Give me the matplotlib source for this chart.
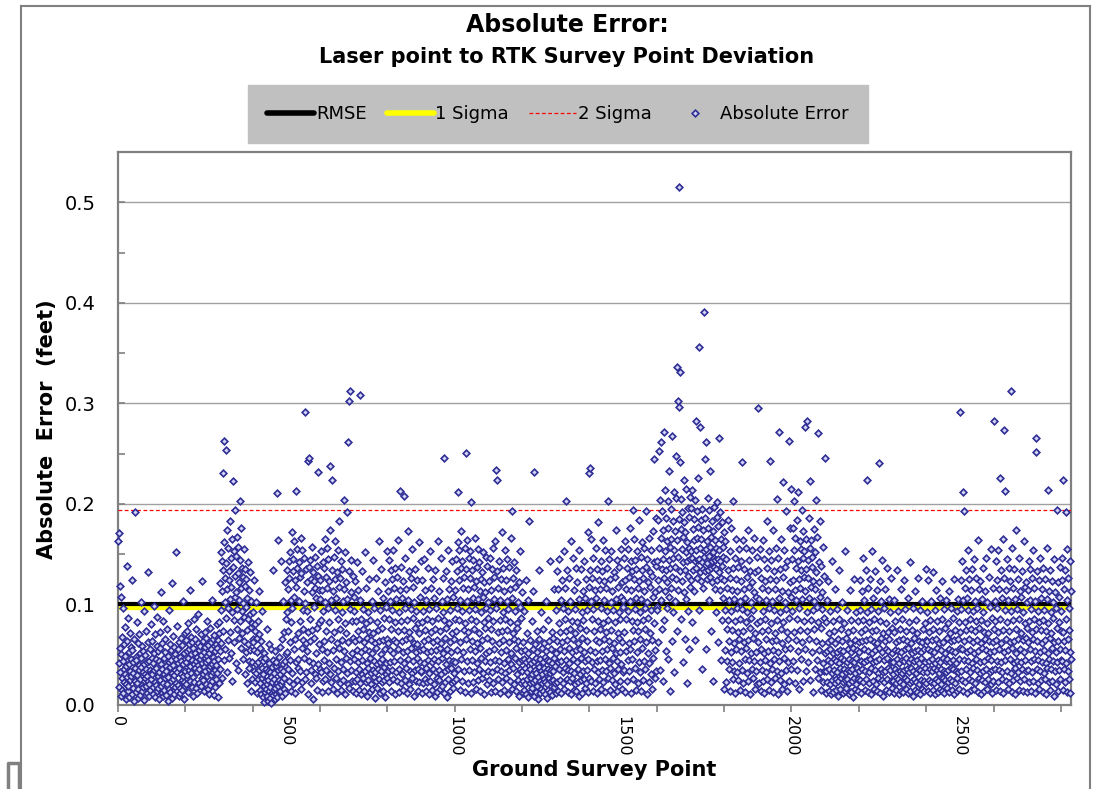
import matplotlib
matplotlib.use("Agg")
import matplotlib.pyplot as plt
from matplotlib.lines import Line2D
import numpy as np

plt.rcParams['font.family'] = ['DejaVu Sans']

# absolute error per survey point, in thousandths of a foot, 100 points per block
b00 = [163, 42, 171, 18, 57, 118, 33, 9, 51, 107, 27, 68, 15, 44, 96, 12, 36, 61, 23, 49,
       78, 31, 6, 39, 21, 138, 64, 28, 14, 87, 19, 53, 41, 8, 34, 72, 25, 58, 46, 29,
       11, 124, 55, 17, 32, 43, 66, 4, 192, 24, 37, 48, 13, 45, 22, 83, 30, 62, 16, 7,
       40, 71, 35, 26, 52, 10, 102, 38, 47, 20, 59, 14, 33, 54, 18, 41, 93, 5, 31, 27,
       50, 36, 74, 19, 12, 43, 29, 63, 24, 132, 9, 44, 21, 35, 56, 15, 81, 32, 26, 47]
b01 = [31, 64, 18, 11, 42, 98, 35, 52, 23, 71, 8, 37, 46, 20, 59, 14, 88, 29, 17, 54,
       44, 6, 33, 73, 25, 57, 112, 19, 41, 12, 36, 62, 22, 84, 9, 47, 31, 15, 53, 66,
       27, 10, 39, 34, 76, 21, 49, 4, 28, 94, 43, 16, 61, 13, 38, 55, 24, 45, 121, 32,
       7, 69, 26, 40, 30, 58, 11, 18, 51, 35, 152, 46, 22, 14, 33, 79, 56, 20, 42, 9,
       37, 63, 17, 48, 12, 44, 67, 31, 25, 60, 15, 41, 29, 103, 23, 52, 6, 34, 72, 19]
b02 = [43, 65, 21, 54, 30, 74, 13, 47, 82, 56, 35, 61, 24, 39, 114, 32, 51, 68, 18, 45,
       63, 28, 9, 57, 41, 86, 23, 66, 37, 52, 44, 17, 76, 48, 33, 12, 62, 40, 91, 22,
       55, 36, 59, 46, 19, 71, 50, 27, 123, 42, 25, 64, 31, 53, 14, 38, 73, 34, 58, 21,
       67, 43, 29, 84, 49, 16, 45, 60, 11, 36, 52, 39, 77, 20, 63, 30, 56, 104, 41, 24,
       33, 66, 48, 10, 44, 70, 18, 54, 35, 61, 40, 26, 81, 57, 32, 8, 65, 46, 22, 72]
b03 = [83, 54, 121, 36, 152, 94, 62, 143, 27, 113, 231, 74, 134, 45, 162, 263, 102, 56, 126, 87,
       254, 141, 33, 115, 174, 65, 96, 156, 133, 47, 124, 73, 183, 105, 52, 146, 117, 24, 165, 92,
       137, 223, 85, 153, 63, 128, 107, 194, 42, 148, 112, 76, 167, 95, 131, 35, 157, 122, 67, 104,
       203, 84, 144, 57, 116, 176, 93, 136, 72, 127, 46, 101, 155, 88, 64, 118, 31, 135, 97, 53,
       125, 75, 22, 106, 142, 61, 86, 44, 114, 37, 91, 55, 132, 14, 78, 103, 43, 82, 26, 66]
b04 = [63, 92, 34, 124, 55, 81, 23, 74, 41, 102, 32, 67, 12, 53, 84, 26, 43, 113, 35, 71,
       15, 57, 22, 46, 64, 11, 37, 27, 93, 44, 8, 31, 19, 3, 52, 24, 13, 47, 36, 16,
       21, 76, 9, 34, 4, 25, 42, 14, 61, 18, 33, 7, 56, 28, 2, 38, 12, 23, 45, 10,
       134, 26, 32, 15, 6, 54, 17, 39, 11, 43, 22, 211, 8, 35, 19, 164, 13, 48, 25, 31,
       14, 58, 21, 143, 36, 9, 66, 24, 41, 103, 34, 16, 73, 27, 122, 44, 12, 86, 38, 51]
b05 = [92, 134, 53, 115, 36, 74, 126, 24, 143, 63, 45, 152, 83, 14, 104, 172, 32, 96, 133, 21,
       145, 56, 107, 163, 12, 124, 66, 213, 117, 43, 136, 25, 155, 46, 72, 37, 142, 103, 34, 127,
       84, 166, 16, 131, 57, 23, 154, 94, 65, 76, 113, 47, 146, 26, 101, 291, 135, 62, 33, 93,
       122, 54, 11, 73, 243, 137, 44, 246, 86, 144, 64, 125, 22, 35, 112, 157, 75, 6, 132, 42,
       97, 123, 67, 147, 31, 116, 27, 106, 52, 138, 77, 15, 128, 232, 41, 114, 82, 61, 105, 36]
b06 = [124, 33, 153, 85, 13, 114, 56, 142, 24, 93, 136, 64, 45, 165, 102, 26, 127, 74, 35, 156,
       53, 116, 14, 96, 145, 42, 83, 123, 31, 174, 238, 66, 104, 23, 134, 224, 55, 113, 16, 147,
       73, 37, 125, 94, 163, 46, 27, 106, 132, 62, 12, 154, 86, 34, 117, 57, 183, 22, 126, 76,
       43, 143, 15, 92, 65, 135, 36, 103, 25, 115, 204, 54, 82, 152, 11, 122, 47, 72, 192, 32,
       105, 63, 21, 262, 133, 302, 17, 312, 95, 44, 112, 35, 144, 52, 84, 24, 128, 67, 14, 107]
b07 = [46, 93, 24, 123, 64, 12, 84, 33, 142, 55, 26, 74, 114, 43, 15, 66, 36, 104, 308, 22,
       53, 86, 11, 133, 45, 31, 76, 27, 95, 63, 14, 152, 56, 34, 82, 23, 116, 42, 67, 9,
       37, 92, 25, 73, 54, 125, 13, 47, 85, 32, 65, 21, 103, 16, 52, 35, 144, 72, 28, 44,
       96, 7, 62, 33, 126, 57, 24, 83, 41, 17, 75, 36, 113, 26, 64, 163, 43, 12, 94, 51,
       34, 135, 23, 77, 46, 14, 106, 65, 38, 87, 25, 56, 122, 8, 42, 97, 31, 66, 153, 27]
b08 = [62, 113, 34, 86, 144, 23, 55, 103, 43, 134, 14, 76, 125, 35, 94, 52, 154, 26, 65, 116,
       44, 83, 11, 136, 33, 105, 63, 24, 127, 74, 56, 164, 36, 92, 13, 114, 45, 213, 84, 22,
       137, 64, 31, 106, 53, 15, 123, 75, 42, 208, 96, 25, 146, 66, 37, 115, 12, 85, 54, 173,
       46, 104, 21, 73, 133, 34, 67, 16, 95, 126, 57, 32, 155, 27, 87, 44, 117, 62, 9, 102,
       35, 77, 135, 53, 24, 93, 47, 124, 61, 14, 82, 36, 162, 23, 72, 55, 107, 43, 143, 33]
b09 = [34, 83, 12, 124, 56, 22, 93, 64, 145, 42, 75, 26, 114, 37, 14, 104, 53, 86, 23, 136,
       45, 66, 11, 95, 32, 153, 24, 73, 54, 116, 15, 43, 84, 36, 125, 63, 21, 106, 46, 9,
       76, 134, 33, 55, 96, 27, 65, 13, 163, 44, 87, 35, 113, 25, 57, 74, 16, 146, 31, 62,
       103, 47, 19, 92, 52, 126, 12, 246, 85, 34, 67, 23, 133, 41, 77, 8, 105, 56, 36, 154,
       26, 82, 45, 115, 63, 14, 94, 37, 123, 53, 22, 72, 143, 17, 44, 107, 32, 66, 24, 86]
b10 = [114, 43, 145, 74, 26, 133, 96, 55, 162, 212, 36, 124, 85, 154, 15, 104, 63, 136, 46, 173,
       93, 24, 143, 116, 53, 127, 75, 34, 156, 82, 13, 135, 66, 251, 103, 44, 164, 22, 115, 73,
       146, 35, 94, 126, 56, 153, 12, 86, 202, 64, 134, 45, 106, 23, 144, 76, 117, 33, 166, 54,
       95, 123, 16, 84, 137, 62, 42, 155, 25, 105, 72, 142, 36, 113, 57, 14, 125, 92, 47, 132,
       65, 27, 107, 152, 32, 83, 122, 11, 77, 112, 44, 147, 52, 96, 21, 138, 67, 102, 34, 87]
b11 = [54, 123, 25, 94, 146, 43, 76, 114, 13, 135, 64, 33, 156, 84, 22, 105, 56, 127, 45, 163,
       14, 96, 234, 36, 133, 224, 73, 26, 116, 62, 44, 143, 85, 12, 104, 53, 125, 34, 172, 74,
       23, 92, 136, 65, 42, 113, 15, 154, 86, 32, 124, 55, 27, 103, 75, 145, 46, 11, 95, 137,
       63, 35, 115, 24, 83, 166, 52, 41, 193, 16, 106, 72, 37, 126, 66, 21, 142, 93, 47, 117,
       14, 57, 134, 82, 31, 77, 25, 102, 64, 122, 43, 9, 97, 36, 153, 54, 22, 87, 112, 45]
b12 = [34, 12, 63, 24, 46, 93, 15, 37, 55, 21, 124, 43, 11, 72, 33, 26, 52, 8, 104, 45,
       183, 22, 36, 65, 14, 42, 27, 84, 31, 17, 56, 23, 113, 44, 9, 232, 35, 61, 25, 47,
       13, 32, 19, 74, 53, 6, 41, 28, 134, 38, 66, 12, 24, 46, 34, 92, 16, 57, 22, 31,
       43, 14, 76, 26, 62, 37, 11, 48, 23, 103, 33, 54, 7, 21, 45, 85, 36, 15, 64, 27,
       44, 32, 143, 13, 56, 24, 35, 73, 10, 42, 25, 67, 34, 18, 47, 115, 22, 53, 39, 12]
b13 = [52, 94, 23, 133, 64, 14, 115, 43, 82, 36, 145, 25, 73, 56, 104, 12, 44, 124, 63, 33,
       96, 22, 153, 54, 16, 86, 37, 116, 45, 74, 203, 26, 65, 134, 35, 13, 93, 57, 126, 42,
       24, 76, 103, 34, 163, 11, 53, 84, 27, 146, 66, 46, 15, 114, 32, 95, 21, 72, 136, 55,
       14, 43, 122, 83, 23, 62, 36, 105, 9, 154, 56, 31, 77, 25, 135, 47, 92, 12, 67, 113,
       34, 85, 26, 143, 53, 17, 106, 44, 75, 22, 125, 64, 35, 94, 13, 172, 46, 27, 231, 117]
b14 = [236, 134, 55, 103, 24, 165, 86, 43, 126, 14, 95, 146, 36, 74, 114, 53, 22, 156, 65, 106,
       12, 135, 44, 84, 182, 33, 124, 63, 26, 115, 76, 45, 143, 16, 96, 54, 133, 35, 164, 82,
       23, 104, 66, 123, 46, 154, 13, 73, 116, 34, 93, 136, 56, 27, 203, 85, 42, 145, 64, 15,
       125, 37, 102, 75, 153, 25, 57, 113, 47, 94, 11, 132, 62, 32, 127, 83, 21, 174, 52, 105,
       44, 144, 14, 72, 117, 36, 92, 67, 137, 24, 86, 53, 155, 41, 107, 16, 122, 63, 33, 97]
b15 = [104, 35, 146, 73, 124, 13, 163, 54, 115, 86, 24, 136, 93, 45, 155, 62, 127, 34, 176, 103,
       56, 143, 12, 114, 84, 133, 46, 194, 75, 26, 125, 165, 64, 95, 37, 144, 106, 15, 135, 53,
       83, 153, 22, 116, 74, 123, 43, 184, 66, 92, 33, 147, 105, 14, 134, 57, 162, 85, 25, 126,
       113, 44, 156, 76, 96, 36, 137, 63, 193, 11, 102, 145, 52, 122, 87, 23, 166, 42, 117, 72,
       132, 31, 94, 154, 16, 128, 65, 173, 107, 47, 245, 82, 142, 27, 112, 55, 186, 138, 34, 97]
b16 = [143, 94, 184, 124, 63, 253, 156, 115, 204, 35, 166, 262, 104, 135, 76, 193, 145, 24, 174, 126,
       272, 85, 153, 214, 113, 54, 186, 134, 163, 96, 122, 203, 46, 176, 144, 107, 233, 157, 14, 136,
       195, 116, 165, 64, 268, 127, 183, 146, 92, 212, 154, 33, 137, 173, 103, 206, 125, 248, 164, 74,
       336, 147, 302, 114, 185, 515, 296, 242, 133, 331, 175, 86, 205, 155, 123, 192, 43, 167, 142, 224,
       112, 182, 134, 66, 172, 152, 215, 105, 143, 22, 162, 196, 128, 93, 156, 187, 56, 145, 207, 117]
b17 = [153, 196, 124, 214, 146, 83, 175, 134, 164, 113, 185, 143, 204, 65, 154, 282, 136, 193, 126, 166,
       144, 226, 177, 94, 356, 145, 132, 276, 156, 184, 123, 165, 36, 142, 195, 135, 174, 116, 153, 391,
       147, 245, 133, 186, 56, 262, 155, 125, 163, 141, 206, 134, 176, 104, 148, 194, 127, 233, 157, 136,
       74, 167, 143, 183, 122, 152, 24, 173, 146, 137, 197, 115, 164, 144, 92, 156, 135, 187, 124, 202,
       145, 63, 178, 132, 154, 266, 114, 192, 143, 45, 165, 126, 182, 138, 85, 157, 106, 147, 172, 16]
b18 = [124, 55, 163, 94, 23, 145, 76, 116, 44, 184, 85, 134, 36, 104, 64, 153, 14, 126, 93, 53,
       176, 43, 114, 75, 26, 136, 203, 62, 105, 34, 146, 84, 12, 125, 56, 165, 96, 33, 113, 73,
       25, 137, 66, 155, 42, 103, 86, 15, 143, 54, 123, 242, 35, 95, 164, 74, 22, 115, 63, 135,
       46, 106, 13, 156, 83, 57, 127, 32, 92, 174, 65, 24, 144, 117, 45, 77, 133, 11, 102, 52,
       87, 154, 36, 122, 67, 94, 27, 166, 44, 112, 72, 16, 132, 53, 107, 34, 147, 82, 21, 295]
b19 = [63, 134, 22, 105, 43, 155, 84, 14, 126, 56, 35, 116, 74, 164, 24, 93, 52, 145, 12, 86,
       123, 45, 104, 66, 33, 136, 26, 183, 75, 54, 114, 15, 96, 153, 243, 42, 125, 82, 23, 144,
       64, 103, 36, 174, 55, 13, 133, 94, 46, 115, 72, 27, 156, 65, 124, 34, 205, 85, 11, 146,
       53, 106, 44, 272, 92, 25, 135, 76, 165, 32, 113, 62, 16, 127, 222, 83, 47, 154, 21, 102,
       56, 137, 95, 35, 193, 73, 14, 143, 66, 112, 43, 263, 87, 24, 122, 57, 176, 107, 36, 215]
b20 = [145, 93, 176, 44, 124, 203, 73, 154, 22, 114, 166, 65, 136, 104, 35, 184, 86, 143, 212, 54,
       125, 96, 16, 163, 116, 75, 155, 46, 134, 194, 105, 63, 146, 24, 173, 127, 84, 153, 56, 276,
       113, 34, 165, 135, 92, 74, 282, 144, 43, 126, 186, 66, 106, 156, 25, 223, 117, 85, 164, 137,
       53, 147, 94, 13, 123, 175, 76, 103, 36, 152, 115, 204, 64, 132, 45, 97, 167, 271, 83, 27,
       122, 142, 55, 107, 183, 33, 77, 138, 15, 112, 62, 95, 42, 157, 23, 87, 128, 34, 246, 52]
b21 = [34, 83, 12, 54, 104, 23, 63, 45, 123, 14, 72, 36, 56, 21, 93, 43, 11, 65, 32, 143,
       25, 52, 84, 13, 46, 35, 74, 22, 115, 62, 15, 44, 26, 95, 53, 33, 9, 66, 24, 86,
       42, 134, 37, 16, 55, 76, 27, 47, 31, 102, 64, 12, 23, 54, 36, 82, 45, 14, 153, 25,
       33, 67, 17, 43, 94, 26, 56, 35, 73, 11, 46, 22, 114, 34, 62, 13, 53, 85, 24, 44,
       36, 8, 75, 57, 27, 125, 43, 32, 65, 16, 92, 21, 47, 37, 55, 14, 84, 26, 63, 34]
b22 = [53, 94, 25, 124, 44, 73, 12, 113, 64, 36, 85, 146, 23, 56, 104, 43, 15, 76, 34, 134,
       65, 26, 224, 92, 45, 13, 54, 116, 33, 83, 22, 66, 125, 46, 11, 95, 37, 74, 153, 52,
       24, 106, 43, 63, 16, 86, 35, 133, 55, 21, 75, 44, 114, 14, 62, 32, 93, 27, 241, 57,
       46, 123, 12, 84, 36, 67, 103, 25, 53, 144, 33, 72, 9, 45, 96, 23, 64, 115, 34, 56,
       15, 82, 47, 136, 26, 73, 37, 54, 105, 13, 66, 35, 92, 24, 43, 126, 17, 77, 52, 31]
b23 = [43, 24, 73, 12, 104, 55, 36, 84, 22, 63, 15, 134, 46, 33, 54, 26, 93, 11, 65, 42,
       34, 76, 23, 115, 53, 14, 45, 86, 32, 21, 66, 13, 124, 44, 35, 56, 27, 95, 74, 16,
       47, 36, 64, 25, 106, 12, 57, 33, 83, 43, 22, 142, 14, 62, 37, 46, 75, 24, 52, 9,
       96, 34, 44, 26, 67, 113, 15, 54, 32, 85, 23, 45, 13, 72, 36, 55, 126, 21, 64, 42,
       11, 35, 94, 53, 25, 47, 63, 16, 103, 33, 76, 24, 56, 14, 43, 82, 37, 135, 22, 65]
b24 = [64, 33, 92, 14, 56, 124, 25, 73, 44, 36, 85, 12, 54, 103, 23, 65, 34, 46, 132, 15,
       76, 22, 53, 37, 94, 42, 11, 66, 26, 114, 35, 57, 84, 13, 45, 24, 74, 32, 62, 16,
       106, 43, 21, 55, 36, 123, 14, 86, 47, 27, 63, 34, 95, 12, 52, 77, 25, 44, 33, 104,
       17, 67, 46, 23, 82, 35, 56, 13, 113, 72, 26, 43, 37, 96, 64, 15, 54, 24, 45, 87,
       36, 125, 11, 65, 22, 53, 75, 34, 42, 14, 93, 27, 66, 33, 105, 46, 16, 83, 291, 57]
b25 = [73, 124, 34, 95, 25, 143, 56, 104, 212, 14, 64, 193, 45, 116, 83, 23, 134, 36, 75, 53,
       106, 12, 94, 44, 154, 66, 26, 125, 33, 86, 55, 114, 15, 76, 42, 135, 24, 93, 63, 37,
       145, 52, 16, 103, 74, 22, 126, 46, 84, 35, 65, 96, 13, 164, 54, 27, 115, 77, 32, 43,
       123, 11, 85, 62, 105, 25, 57, 136, 34, 92, 44, 73, 14, 113, 23, 66, 146, 36, 55, 82,
       16, 102, 47, 72, 26, 127, 64, 33, 97, 53, 21, 155, 45, 12, 87, 35, 116, 63, 24, 76]
b26 = [54, 282, 103, 36, 84, 143, 15, 65, 124, 44, 96, 23, 154, 73, 35, 115, 56, 14, 226, 86,
       43, 134, 62, 26, 106, 33, 165, 75, 12, 126, 53, 274, 94, 45, 213, 24, 114, 66, 145, 34,
       83, 16, 104, 55, 136, 22, 74, 46, 123, 63, 312, 32, 93, 13, 156, 57, 116, 25, 85, 42,
       135, 64, 37, 105, 11, 76, 174, 52, 27, 95, 44, 125, 66, 33, 146, 15, 86, 113, 56, 24,
       107, 43, 72, 133, 36, 65, 14, 92, 163, 53, 26, 117, 45, 82, 34, 122, 67, 13, 77, 102]
b27 = [63, 114, 35, 143, 84, 23, 104, 56, 135, 44, 14, 95, 73, 126, 33, 66, 154, 24, 86, 46,
       116, 54, 12, 103, 252, 76, 266, 36, 133, 64, 22, 93, 45, 124, 16, 83, 53, 146, 34, 75,
       106, 25, 62, 115, 43, 13, 136, 85, 32, 55, 94, 26, 125, 65, 42, 74, 11, 156, 37, 105,
       214, 52, 82, 23, 113, 46, 67, 15, 134, 92, 36, 72, 57, 123, 24, 102, 44, 87, 9, 63,
       145, 34, 112, 53, 21, 96, 77, 194, 43, 122, 14, 64, 35, 107, 83, 26, 137, 56, 45, 74]
b28 = [93, 146, 44, 124, 15, 73, 224, 36, 115, 64, 23, 134, 55, 86, 192, 42, 104, 13, 155, 66,
       34, 126, 75, 26, 96, 143, 53, 12, 113, 46]

blocks = [b00, b01, b02, b03, b04, b05, b06, b07, b08, b09, b10, b11, b12, b13, b14,
          b15, b16, b17, b18, b19, b20, b21, b22, b23, b24, b25, b26, b27, b28]

rmse = 0.100
sigma1 = 0.097
sigma2 = 0.194

abs_error = np.concatenate([np.array(b, dtype=float) for b in blocks]) / 1000.0
point_no = np.arange(1, len(abs_error) + 1)

fig = plt.figure(figsize=(10.94, 7.89), dpi=100)
W, H = 1094.0, 789.0
ax = fig.add_axes([118 / W, 1 - 705 / H, (1071 - 118) / W, (705 - 152) / H])

ax.axhline(sigma1, color='#ffff00', lw=3.8, zorder=2)
ax.axhline(rmse, color='black', lw=3.0, zorder=3)
ax.axhline(sigma2, color='#ff0000', lw=0.9, ls=(0, (3, 2)), zorder=3)
ax.plot(point_no, abs_error, ls='none', marker='D', ms=3.4, mec='#2e2e96',
        mfc='#d4d4f4', mew=1.2, zorder=4, clip_on=False)

ax.set_xlim(0, 2830)
ax.set_ylim(0, 0.55)
ax.set_yticks(np.arange(0, 0.51, 0.1))
ax.set_yticks(np.arange(0, 0.551, 0.05), minor=True)
ax.set_yticklabels(['%.1f' % v for v in np.arange(0, 0.51, 0.1)])
ax.set_xticks(np.arange(0, 2600, 500))
ax.set_xticklabels([str(v) for v in range(0, 2600, 500)], rotation=-90)
ax.set_xticks(np.arange(0, 2801, 200), minor=True)
ax.xaxis.remove_overlapping_locs = False
ax.tick_params(axis='x', which='major', length=0, labelsize=11.5, pad=8)
ax.tick_params(axis='x', which='minor', length=5, direction='out', color='#808080', width=1.2)
ax.tick_params(axis='y', which='both', length=5, direction='in', color='#808080', width=1.2,
               labelsize=14, pad=16)
ax.grid(axis='y', which='major', color='#a0a0a0', lw=1.0)
ax.set_axisbelow(True)
for s in ax.spines.values():
    s.set_color('#808080')
    s.set_linewidth(1.6)

fig.text(567 / W, 1 - 25 / H, 'Absolute Error:', ha='center', va='center',
         fontsize=17, fontweight='bold')
fig.text(567 / W, 1 - 57 / H, 'Laser point to RTK Survey Point Deviation', ha='center',
         va='center', fontsize=15, fontweight='bold')
fig.text(47 / W, 1 - 429 / H, 'Absolute  Error  (feet)', rotation=90, ha='center',
         va='center', fontsize=15, fontweight='bold')
fig.text(594 / W, 1 - 770 / H, 'Ground Survey Point', ha='center', va='center',
         fontsize=15, fontweight='bold')

handles = [Line2D([], [], color='black', lw=4, solid_capstyle='round'),
           Line2D([], [], color='#ffff00', lw=4, solid_capstyle='round'),
           Line2D([], [], color='#ff0000', lw=0.9, ls=(0, (3, 2))),
           Line2D([], [], ls='none', marker='D', ms=3.4, mec='#2e2e96', mfc='#d4d4f4', mew=1.2)]
leg = fig.legend(handles, ['RMSE', '1 Sigma', '2 Sigma', 'Absolute Error'], loc='center',
                 bbox_to_anchor=(558 / W, 1 - 114 / H), ncol=4, fontsize=13, frameon=True,
                 fancybox=False, facecolor='#c0c0c0', edgecolor='#c0c0c0', framealpha=1,
                 handlelength=2.6, handletextpad=0.1, columnspacing=1.1, borderpad=1.1,
                 numpoints=1)

# chart area border
grey = '#808080'
fig.add_artist(Line2D([21 / W, 1090 / W], [1 - 6 / H, 1 - 6 / H], color=grey, lw=1.5))
fig.add_artist(Line2D([21 / W, 21 / W], [1 - 6 / H, 0], color=grey, lw=1.5))
fig.add_artist(Line2D([1090 / W, 1090 / W], [1 - 6 / H, 0], color=grey, lw=1.5))
fig.add_artist(Line2D([8 / W, 8 / W, 19 / W, 19 / W], [0, 1 - 763 / H, 1 - 763 / H, 0],
                      color=grey, lw=2.5))

fig.savefig('out.png', dpi=100)
